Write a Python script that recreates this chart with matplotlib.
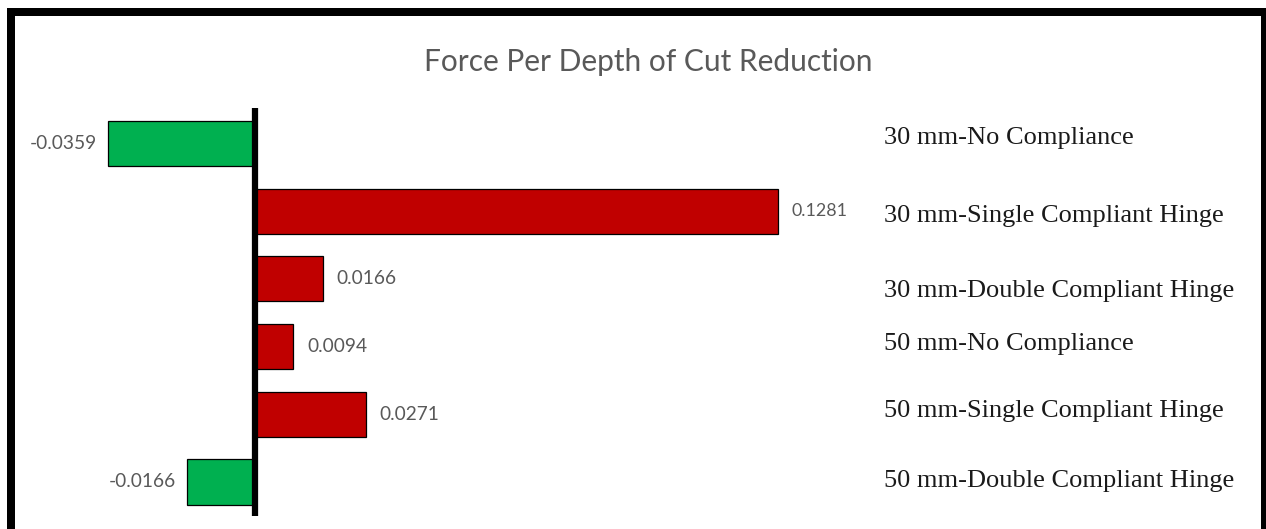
import matplotlib
matplotlib.use("Agg")
import matplotlib.pyplot as plt
from matplotlib.patches import Rectangle

# Chart content
title = "Force Per Depth of Cut Reduction"
categories = [
    "30 mm-No Compliance",
    "30 mm-Single Compliant Hinge",
    "30 mm-Double Compliant Hinge",
    "50 mm-No Compliance",
    "50 mm-Single Compliant Hinge",
    "50 mm-Double Compliant Hinge",
]
values = [-0.0359, 0.1281, 0.0166, 0.0094, 0.0271, -0.0166]

# Layout (pixels)
W, H = 1266, 529
ZERO_PX = 255          # x pixel of the zero line
PX_PER_UNIT = 4083     # horizontal scale
ROW0_PX = 143.5        # centre of first row
ROW_STEP = 67.7        # row spacing
label_x_px = 884
label_baselines_px = [144, 222, 297, 350, 417, 487]

POS_COLOR = "#C00000"
NEG_COLOR = "#00B050"
TEXT_GRAY = "#595959"

fig = plt.figure(figsize=(W / 100, H / 100), dpi=100)
fig.patch.set_facecolor("white")
ax = fig.add_axes([0, 0, 1, 1])
ax.set_axis_off()
ax.set_xlim(-ZERO_PX / PX_PER_UNIT, (W - ZERO_PX) / PX_PER_UNIT)
ax.set_ylim((H - ROW0_PX) / ROW_STEP, -ROW0_PX / ROW_STEP)

n = len(values)
ypos = list(range(n))
colors = [POS_COLOR if v > 0 else NEG_COLOR for v in values]
ax.barh(ypos, values, height=0.667, color=colors, edgecolor="black",
        linewidth=0.9, zorder=2)

# Thick zero axis
ax.vlines(0, -0.53, n - 0.5, color="black", linewidth=4.5, zorder=3)

# Value labels
vmax = max(values)
for i, v in enumerate(values):
    pos = v > 0
    ax.annotate(f"{v:.4f}", xy=(v, i), xytext=(10 if pos else -8, 0),
                textcoords="offset points", ha="left" if pos else "right",
                va="center", fontsize=12.8 if v == vmax else 13.8,
                color=TEXT_GRAY, family="Lato")

# Category labels on the right
for cat, b in zip(categories, label_baselines_px):
    fig.text(label_x_px / W, 1 - b / H, cat, family="Liberation Serif",
             fontsize=19, va="baseline", ha="left", color="#1a1a1a")

# Title
fig.text(648 / W, 1 - 71 / H, title, ha="center", va="baseline",
         fontsize=21.5, color=TEXT_GRAY, family="Lato")

# Frame around the figure (open at the bottom edge)
left, right, top, bottom = 11, 1265, 12, 560
fig.patches.append(Rectangle((left / W, 1 - bottom / H), (right - left) / W,
                             (bottom - top) / H, transform=fig.transFigure,
                             fill=False, edgecolor="black", linewidth=5.76,
                             joinstyle="miter", clip_on=False))

fig.savefig("out.png", dpi=100)
